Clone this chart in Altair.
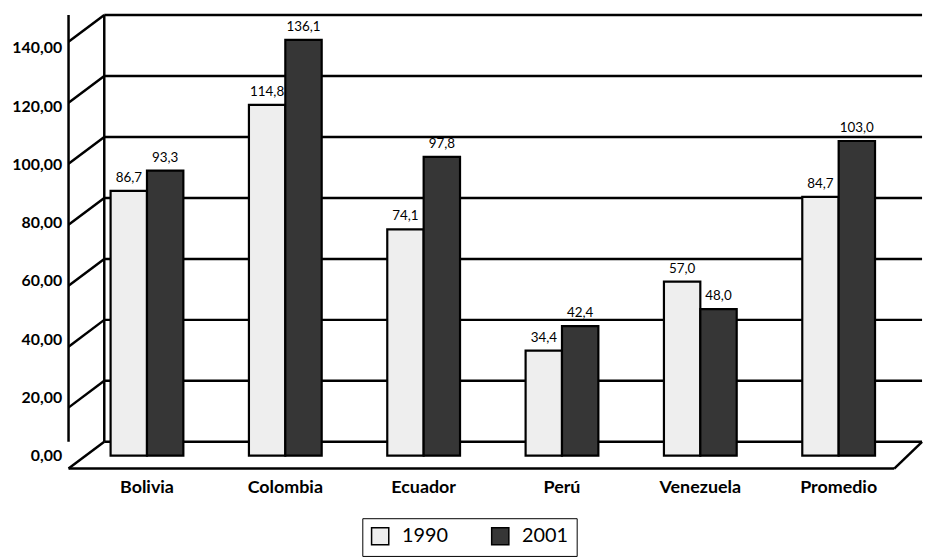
import altair as alt
import pandas as pd

# ---- data ----
countries = ["Bolivia", "Colombia", "Ecuador", "Perú", "Venezuela", "Promedio"]
years = ["1990", "2001"]
v1990 = [86.7, 114.8, 74.1, 34.4, 57.0, 84.7]
v2001 = [93.3, 136.1, 97.8, 42.4, 48.0, 103.0]
yticks = [0, 20, 40, 60, 80, 100, 120, 140]

rows = []
for c, a, b in zip(countries, v1990, v2001):
    rows.append({"country": c, "year": years[0], "value": a})
    rows.append({"country": c, "year": years[1], "value": b})
df = pd.DataFrame(rows)
ticks = pd.DataFrame({"v": yticks})

FONT = "Lato"
W, H = 855, 457
DX = 36          # depth of the 3D wall in pixels
DEPTH = 8.79     # depth of the 3D wall in value units of the wall scale
RIGHT = W + 5

wall_scale = alt.Scale(domain=[-DEPTH, 140], nice=False, zero=False)
bar_scale = alt.Scale(domain=[-4.22, 144.22], nice=False, zero=False)
lab_scale = alt.Scale(domain=[-4.43, 151.24], nice=False, zero=False)

base_w = alt.Chart(ticks).transform_calculate(front=f"datum.v - {DEPTH}")
LW = 2.5

# back wall gridlines
grid = base_w.mark_rule(color="black", strokeWidth=LW).encode(
    y=alt.Y("v:Q", scale=wall_scale, axis=None),
    x=alt.value(DX), x2=alt.value(RIGHT))
# left wall diagonals
diag = base_w.mark_rule(color="black", strokeWidth=LW).encode(
    y=alt.Y("front:Q", scale=wall_scale, axis=None), y2="v:Q",
    x=alt.value(0), x2=alt.value(DX))
# back wall vertical
backv = base_w.transform_aggregate(top="max(v)", bot="min(v)").mark_rule(
    color="black", strokeWidth=LW).encode(
    y=alt.Y("top:Q", scale=wall_scale, axis=None), y2="bot:Q", x=alt.value(DX))
# front vertical
frontv = base_w.transform_aggregate(top="max(front)", bot="min(front)").mark_rule(
    color="black", strokeWidth=LW).encode(
    y=alt.Y("top:Q", scale=wall_scale, axis=None), y2="bot:Q", x=alt.value(0))
# floor front line
floor = base_w.transform_filter("datum.v == 0").mark_rule(
    color="black", strokeWidth=LW).encode(
    y=alt.Y("front:Q", scale=wall_scale, axis=None),
    x=alt.value(0), x2=alt.value(RIGHT - DX + 8))
# floor right diagonal
floord = base_w.transform_filter("datum.v == 0").mark_rule(
    color="black", strokeWidth=LW).encode(
    y=alt.Y("front:Q", scale=wall_scale, axis=None), y2="v:Q",
    x=alt.value(RIGHT - DX + 8), x2=alt.value(RIGHT))

xenc = alt.X("country:N", sort=countries,
             scale=alt.Scale(paddingInner=0.474, paddingOuter=0.304),
             axis=alt.Axis(title=None, labelAngle=0, domain=False, ticks=False,
                           labelFont=FONT, labelFontWeight="bold", labelFontSize=18,
                           labelColor="black", labelPadding=10))

bars = alt.Chart(df).mark_bar(stroke="black", strokeWidth=2.2).encode(
    x=xenc,
    xOffset=alt.XOffset("year:N", sort=years, scale=alt.Scale(paddingInner=0)),
    y=alt.Y("value:Q", scale=bar_scale, axis=None),
    color=alt.Color("year:N", sort=years,
                    scale=alt.Scale(domain=years, range=["#eeeeee", "#363636"]),
                    legend=alt.Legend(title=None, orient="none", legendX=296, legendY=507,
                                      direction="horizontal", symbolType="square",
                                      symbolSize=300, symbolStrokeColor="black",
                                      symbolStrokeWidth=1.5, symbolOpacity=1,
                                      labelFont=FONT, labelFontSize=20, labelColor="black",
                                      labelOffset=12, columnPadding=40, padding=8,
                                      strokeColor="black")),
)

text = alt.Chart(df).transform_calculate(
    label="replace(format(datum.value, '.1f'), '.', ',')"
).mark_text(font=FONT, fontSize=13.5, color="black", baseline="bottom", dy=-6).encode(
    x=alt.X("country:N", sort=countries),
    xOffset=alt.XOffset("year:N", sort=years),
    y=alt.Y("value:Q", scale=bar_scale, axis=None),
    text="label:N",
)

axis_layer = alt.Chart(ticks).mark_point(opacity=0).encode(
    y=alt.Y("v:Q", scale=lab_scale,
            axis=alt.Axis(orient="left", title=None, values=yticks, grid=False,
                          domain=False, ticks=False, labelPadding=7,
                          labelExpr="replace(format(datum.value, '.2f'), '.', ',')",
                          labelFont=FONT, labelFontWeight="bold", labelFontSize=16,
                          labelColor="black", minExtent=61, maxExtent=61)))

chart = alt.layer(grid, diag, backv, frontv, floor, floord, bars, text, axis_layer).resolve_scale(
    y="independent"
).properties(
    width=W, height=H,
    padding={"left": 0, "top": 3, "right": 5, "bottom": 0},
    background="white",
).configure_view(strokeWidth=0)

chart.save("out.html", embed_options={"renderer": "svg", "actions": False})
